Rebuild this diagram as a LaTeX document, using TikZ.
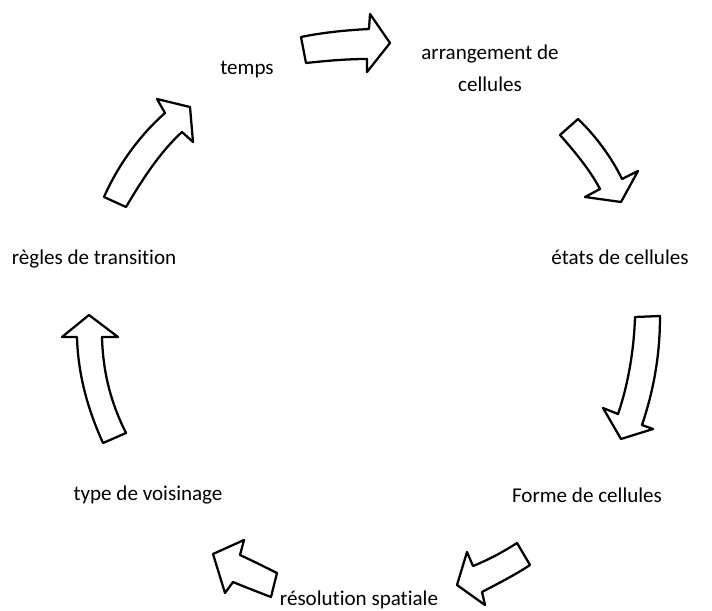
\documentclass[tikz,border=0pt]{standalone}
\usepackage{fontspec}
\setmainfont[Ligatures={NoCommon}]{Carlito}
\begin{document}
\begin{tikzpicture}[x=0.75pt,y=-0.75pt,
  lbl/.style={font=\fontsize{15.8}{24}\selectfont, inner sep=0pt, align=center},
  blockarrow/.style={draw=black, fill=white, line width=1.7pt, line join=round}]
\useasboundingbox (0,0) rectangle (712,610);

% labels round the cycle
\node[lbl] (temps) at (247,70) {temps};
\node[lbl] (arr) at (490,68) {arrangement de\\cellules};
\node[lbl] (etats) at (620,257) {états de cellules};
\node[lbl] (forme) at (587,495) {Forme de cellules};
\node[lbl] (resol) at (359,600) {résolution spatiale};
\node[lbl] (voisin) at (148,495) {type de voisinage};
\node[lbl] (regles) at (94,259) {règles de transition};

% curved block arrows between the labels
\draw[blockarrow] (301,37) .. controls (325,32) and (350,30) .. (369,29) -- (370,14) -- (390,43) -- (367,72) -- (367,59)
  .. controls (345,59) and (325,61) .. (306,63) -- cycle;
\draw[blockarrow] (578,119) .. controls (595,135) and (612,158) .. (622,179) -- (638,171) -- (621,202) -- (585,197) -- (600,189)
  .. controls (590,170) and (575,152) .. (560,135) -- cycle;
\draw[blockarrow] (635,317) -- (660,316) .. controls (660,360) and (652,395) .. (642,425) -- (653,429) -- (621,439) -- (603,408) -- (618,414)
  .. controls (628,385) and (634,350) .. (635,317) -- cycle;
\draw[blockarrow] (517,543) -- (530,565) .. controls (515,575) and (497,584) .. (482,592) -- (485,605) -- (457,585) -- (467,552) -- (473,566)
  .. controls (488,560) and (503,552) .. (517,543) -- cycle;
\draw[blockarrow] (213,554) -- (244,540) -- (240,555) .. controls (253,561) and (265,567) .. (277,573) -- (271,597)
  .. controls (258,592) and (245,587) .. (233,582) -- (225,593) -- cycle;
\draw[blockarrow] (89,315) -- (118,337) -- (102,337) .. controls (103,375) and (112,405) .. (126,433) -- (103,443)
  .. controls (88,410) and (78,375) .. (77,337) -- (62,337) -- cycle;
\draw[blockarrow] (104,197) -- (126,207) .. controls (142,180) and (160,152) .. (182,132) -- (193,142) -- (190,107) -- (157,99) -- (165,113)
  .. controls (140,135) and (118,165) .. (104,197) -- cycle;
\end{tikzpicture}
\end{document}
